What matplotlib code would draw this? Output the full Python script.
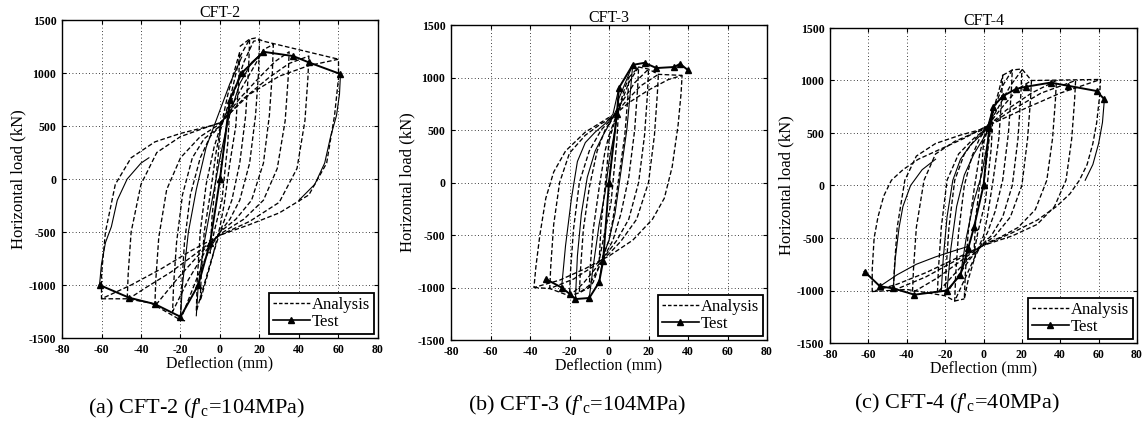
import matplotlib
matplotlib.use("Agg")
import matplotlib.pyplot as plt
from matplotlib.lines import Line2D

plt.rcParams['font.family'] = ['Liberation Serif', 'DejaVu Serif']
plt.rcParams['mathtext.fontset'] = 'custom'
plt.rcParams['mathtext.rm'] = 'Liberation Serif'
plt.rcParams['mathtext.it'] = 'Liberation Serif:italic'
plt.rcParams['axes.unicode_minus'] = False

# ---------------- data ----------------
titles = ["CFT-2", "CFT-3", "CFT-4"]
captions = ["(a) CFT-2 ($f$'$_\\mathrm{c}$=104MPa)",
            "(b) CFT-3 ($f$'$_\\mathrm{c}$=104MPa)",
            "(c) CFT-4 ($f$'$_\\mathrm{c}$=40MPa)"]
xticks = [-80, -60, -40, -20, 0, 20, 40, 60, 80]
yticks = [-1500, -1000, -500, 0, 500, 1000, 1500]

# CFT-2 analysis loops
a_ana_x = [
    [0, 3, 5, 4, 1, -3, -5, -4, -1, 0],
    [0, 4, 10, 9.5, 8, 5, 2, 0, -4, -10, -9.5, -8, -5, -2, 0],
    [0, 5, 10, 15, 14.5, 13, 10, 6, 2, 0, -5, -12, -11.5, -10, -7, -3, 0],
    [0, 6, 12, 17, 20, 19.5, 18, 15, 10, 5, 0, -5, -12, -20, -19.5, -18, -15, -10, -5, 0],
    [0, 8, 16, 22, 27, 26.5, 25, 22, 16, 8, 0, -8, -16, -24, -23.5, -22, -19, -14, -8, 0],
    [0, 10, 20, 28, 35, 34.5, 33, 29, 22, 12, 0, -10, -22, -33, -32.5, -31, -27, -20, -10, 0],
    [0, 12, 25, 35, 45, 44.5, 43, 39, 30, 15, 0, -12, -25, -38, -47, -46.5, -45, -40, -32, -20, -8, 0],
    [0, 15, 30, 45, 60, 60, 58, 54, 45, 30, 15, 0, -15, -30, -45, -60, -60, -58, -53, -45, -33, -20, -5, 0],
    [10, 15, 18, 22, 60],
    [-60, -47, -35, -20, -17],
]
a_ana_y = [
    [0, 450, 700, 350, -200, -500, -700, -350, 200, 450],
    [450, 800, 1200, 950, 500, 150, -250, -450, -750, -1150, -900, -500, -150, 250, 450],
    [450, 750, 1150, 1320, 1050, 600, 150, -200, -400, -500, -800, -1250, -950, -500, -50, 300, 480],
    [480, 750, 1100, 1300, 1310, 1000, 600, 150, -200, -380, -500, -650, -950, -1330, -1050, -600, -150, 200, 400, 500],
    [500, 760, 1020, 1220, 1270, 1000, 600, 150, -200, -380, -500, -700, -950, -1250, -1000, -600, -150, 200, 380, 500],
    [520, 760, 960, 1110, 1200, 950, 550, 100, -200, -380, -520, -700, -950, -1200, -950, -550, -100, 200, 400, 520],
    [520, 760, 960, 1090, 1160, 950, 550, 100, -220, -400, -530, -700, -880, -1030, -1140, -900, -500, -50, 250, 400, 480, 530],
    [530, 800, 970, 1070, 1130, 950, 600, 150, -150, -320, -430, -530, -680, -850, -1000, -1130, -900, -500, -50, 200, 350, 430, 500, 530],
    [1250, 1320, 1330, 1300, 1130],
    [-1130, -1130, -1170, -1330, -1340],
]
# CFT-2 test envelope (with markers)
a_env_x = [[0, 5, 11, 22, 37, 45, 61], [0, -5, -11, -20, -33, -46, -61]]
a_env_y = [[0, 750, 1000, 1200, 1160, 1100, 990], [0, -600, -1000, -1300, -1180, -1120, -1000]]
# CFT-2 test loops
a_tst_x = [
    [61, 60.5, 59, 56, 53, 48, 40],
    [-61, -60, -58, -55, -52, -47, -40, -36],
    [-20, -19, -16, -12, -7, -3, 0, 5, 11],
    [-12, -11, -8, -4, 0, 4, 10, 16, 22],
]
a_tst_y = [
    [990, 800, 600, 400, 150, -50, -200],
    [-1000, -800, -600, -450, -200, 0, 150, 200],
    [-1300, -1000, -500, -100, 300, 500, 650, 900, 1150],
    [-1290, -1000, -600, -200, 200, 550, 900, 1100, 1200],
]

# CFT-3 analysis loops
b_ana_x = [
    [0, 3, 5, 4, 1, -3, -5, -4, -1, 0],
    [0, 4, 8, 10, 9.5, 8, 5, 2, 0, -4, -8, -10, -9.5, -8, -5, -2, 0],
    [0, 5, 10, 15, 14.5, 13, 10, 6, 2, 0, -5, -10, -15, -14.5, -13, -10, -6, -2, 0],
    [0, 6, 13, 20, 19.5, 18, 15, 10, 4, 0, -6, -13, -20, -19.5, -18, -15, -10, -4, 0],
    [0, 8, 16, 25, 24.5, 23, 20, 14, 6, 0, -8, -18, -30, -29.5, -28, -25, -20, -12, -4, 0],
    [0, 10, 20, 30, 37, 36.5, 35, 32, 28, 22, 12, 0, -12, -25, -38, -37, -35, -32, -28, -22, -12, 0],
    [10, 15, 20, 25, 37],
    [-38, -30, -20, -15, -10],
]
b_ana_y = [
    [0, 500, 750, 400, -200, -550, -750, -400, 150, 400],
    [400, 650, 900, 1000, 800, 450, 50, -350, -550, -750, -950, -1000, -800, -450, -50, 300, 450],
    [450, 700, 950, 1100, 900, 500, 50, -300, -550, -620, -800, -980, -1050, -850, -450, -50, 300, 500, 560],
    [550, 750, 950, 1080, 850, 450, 0, -350, -550, -650, -800, -960, -1080, -850, -450, 0, 300, 500, 580],
    [580, 760, 920, 1030, 850, 450, 0, -350, -560, -680, -800, -920, -1010, -800, -400, 0, 280, 450, 560, 600],
    [600, 760, 880, 980, 1020, 850, 550, 150, -150, -350, -550, -700, -820, -930, -1000, -800, -500, -150, 100, 300, 480, 620],
    [1000, 1100, 1080, 1030, 1020],
    [-1000, -1010, -1080, -1050, -1000],
]
b_env_x = [[0, 4, 5, 12, 18, 24, 33, 36, 40], [0, -3, -5, -10, -17, -20, -24, -32]]
b_env_y = [[0, 650, 900, 1120, 1140, 1090, 1100, 1130, 1070], [0, -750, -950, -1100, -1110, -1060, -1000, -920]]
b_tst_x = [
    [-24, -22, -19, -16, -12, -7, -2, 2, 5],
    [-17, -16, -14, -11, -7, -3, 0, 4],
    [-10, -8, -5, -2, 0, 3, 5, 12],
    [12, 11, 9, 6, 3, 0, -3, -5],
]
b_tst_y = [
    [-1000, -600, -150, 200, 380, 480, 560, 650, 900],
    [-1110, -700, -300, 50, 300, 450, 550, 700],
    [-1100, -800, -400, -100, 200, 500, 800, 1120],
    [1120, 900, 500, 100, -300, -550, -700, -950],
]

# CFT-4 analysis loops
c_ana_x = [
    [0, 3, 5, 4, 1, -3, -5, -4, -1, 0],
    [0, 4, 8, 10, 9.5, 8, 5, 2, 0, -4, -8, -10, -9.5, -8, -5, -2, 0],
    [0, 5, 10, 15, 14.5, 13, 10, 6, 2, 0, -5, -10, -15, -14.5, -13, -10, -6, -2, 0],
    [0, 7, 14, 20, 19.5, 18, 15, 10, 4, 0, -7, -14, -20, -19.5, -18, -15, -10, -4, 0],
    [0, 9, 18, 25, 24.5, 23, 20, 14, 6, 0, -8, -16, -24, -23.5, -22, -19, -13, -5, 0],
    [0, 12, 25, 38, 37.5, 36, 33, 27, 18, 8, 0, -12, -24, -37, -36.5, -35, -31, -25, -15, -5, 0],
    [0, 15, 30, 48, 47.5, 46, 43, 37, 28, 15, 0, -15, -30, -47, -46.5, -45, -41, -35, -25, -12, 0],
    [0, 20, 40, 61, 60.5, 59, 57, 54, 50, 45, 38, 28, 15, 0, -15, -30, -45, -58, -58, -57, -55, -52, -48, -42, -34, -22, -10, 0],
    [10, 15, 20, 25, 61],
    [-58, -40, -20, -15, -10],
]
c_ana_y = [
    [0, 450, 700, 350, -150, -450, -650, -300, 150, 400],
    [400, 650, 900, 1050, 850, 450, 50, -300, -480, -650, -900, -1080, -850, -450, -50, 300, 450],
    [450, 700, 950, 1100, 900, 500, 50, -250, -450, -520, -700, -900, -1100, -850, -450, 0, 280, 450, 500],
    [500, 720, 950, 1100, 880, 450, 0, -300, -480, -550, -700, -880, -1050, -800, -400, 50, 300, 450, 520],
    [520, 730, 920, 1000, 820, 450, 0, -300, -480, -560, -700, -860, -1020, -800, -400, 50, 300, 450, 520],
    [530, 720, 880, 1000, 820, 450, 50, -230, -400, -500, -560, -720, -880, -1020, -800, -400, 50, 300, 420, 500, 530],
    [540, 720, 880, 1000, 820, 450, 50, -200, -370, -480, -570, -720, -870, -1000, -800, -400, 50, 280, 400, 480, 540],
    [550, 720, 880, 1010, 850, 600, 400, 200, 50, -80, -200, -330, -450, -570, -700, -830, -940, -1010, -800, -500, -300, -100, 50, 150, 250, 350, 450, 550],
    [1050, 1100, 1110, 1000, 1010],
    [-1010, -990, -1050, -1100, -1080],
]
c_env_x = [[0, 3, 5, 10, 17, 22, 35, 44, 59, 63], [0, -5, -8, -12, -19, -36, -47, -54, -62]]
c_env_y = [[0, 550, 750, 850, 920, 940, 980, 950, 900, 820], [0, -400, -600, -850, -1000, -1040, -980, -960, -820]]
c_tst_x = [
    [-47, -46, -44, -42, -38, -32, -25],
    [-54, -45, -35, -25, -15, -8],
    [-22, -21, -19, -16, -12, -7, -2, 2, 5],
    [-19, -17, -14, -10, -5, 0, 3],
    [-12, -9, -5, -1, 2, 5, 10],
    [63, 62, 60, 57, 53],
]
c_tst_y = [
    [-980, -700, -400, -200, 0, 150, 250],
    [-960, -850, -750, -680, -620, -580],
    [-1000, -700, -300, 50, 250, 380, 470, 550, 750],
    [-1000, -600, -200, 100, 300, 450, 550],
    [-850, -500, -150, 100, 400, 750, 850],
    [820, 600, 400, 200, 50],
]

panels = [
    (a_ana_x, a_ana_y, a_env_x, a_env_y, a_tst_x, a_tst_y),
    (b_ana_x, b_ana_y, b_env_x, b_env_y, b_tst_x, b_tst_y),
    (c_ana_x, c_ana_y, c_env_x, c_env_y, c_tst_x, c_tst_y),
]

# ---------------- layout ----------------
W, H = 1143, 423
fig = plt.figure(figsize=(W / 100, H / 100), dpi=100)
boxes = [(62, 378, 20, 338), (451, 767, 25, 340), (830, 1137, 28, 343)]
cap_pos = [(196, 408), (577, 405), (957, 403)]
DASH = (0, (3.5, 1.8))

for i, (bx, data) in enumerate(zip(boxes, panels)):
    l, r, t, b = bx
    ax = fig.add_axes([l / W, 1 - b / H, (r - l) / W, (b - t) / H])
    ana_x, ana_y, env_x, env_y, tst_x, tst_y = data
    for xs, ys in zip(ana_x, ana_y):
        ax.plot(xs, ys, color='black', lw=0.95, ls=DASH)
    for xs, ys in zip(tst_x, tst_y):
        ax.plot(xs, ys, color='black', lw=0.8, ls='-')
    for xs, ys in zip(env_x, env_y):
        ax.plot(xs, ys, color='black', lw=1.4, ls='-', marker='^', ms=4.5,
                markerfacecolor='black')
    ax.set_xlim(-80, 80)
    ax.set_ylim(-1500, 1500)
    ax.set_xticks(xticks)
    ax.set_yticks(yticks)
    ax.tick_params(direction='in', length=3, labelsize=8.5, top=True, right=True, pad=4)
    for lab in ax.get_xticklabels() + ax.get_yticklabels():
        lab.set_fontweight('bold')
    ax.grid(True, color='black', lw=0.6, ls=(0, (1, 3)))
    for s in ax.spines.values():
        s.set_linewidth(1.0)
    ax.set_title(titles[i], fontsize=11.5, pad=2)
    ax.set_xlabel("Deflection (mm)", fontsize=11.5, labelpad=0)
    ax.set_ylabel("Horizontal load (kN)", fontsize=12, labelpad=2)
    handles = [Line2D([], [], color='black', lw=1.0, ls=(0, (2.5, 1.5))),
               Line2D([], [], color='black', lw=1.2, marker='^', ms=4.5)]
    leg = ax.legend(handles, ["Analysis", "Test"], loc='lower right', fontsize=12,
                    fancybox=False, framealpha=1, edgecolor='black',
                    borderaxespad=0.25, handlelength=2.2, handletextpad=0.1,
                    labelspacing=0.05, borderpad=0.25)
    leg.get_frame().set_linewidth(1.3)
    cx, cy = cap_pos[i]
    fig.text(cx / W, 1 - cy / H, captions[i], ha='center', va='center', fontsize=16)

fig.savefig("out.png", dpi=100)
